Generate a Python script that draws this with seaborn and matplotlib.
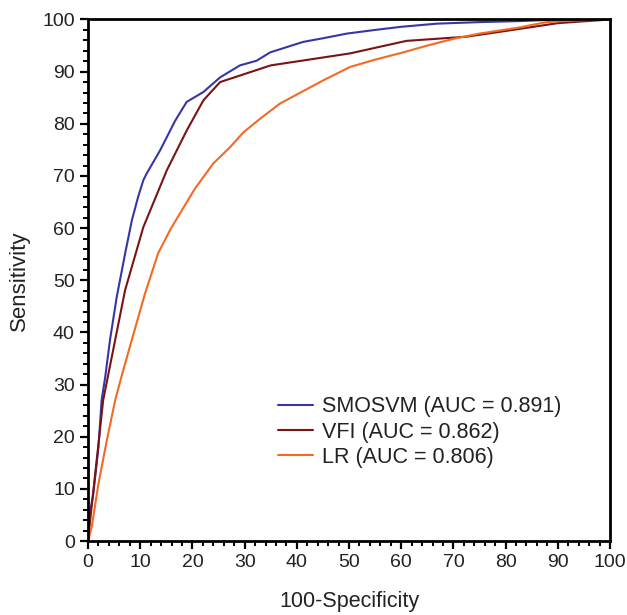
import numpy as np
import pandas as pd
import matplotlib
matplotlib.use("Agg")
import matplotlib.pyplot as plt
import seaborn as sns
from matplotlib.ticker import MultipleLocator

# ROC points (100-specificity, sensitivity)
svm_x = [0, 0.3, 1, 2, 2.6, 3.3, 4.2, 5.5, 7.1, 8.4, 9.6, 10.6, 11.2, 13.8, 16.7, 18.9,
         22.1, 25.3, 29.1, 32.3, 34.9, 41.2, 45, 49.6, 55, 60, 66.8, 75, 82.8, 90, 100]
svm_y = [0, 5, 9, 18, 27, 31.5, 38.5, 46.8, 55.1, 61.5, 66, 69.2, 70.4, 74.9, 80.6, 84.2,
         86.1, 88.9, 91.2, 92.1, 93.7, 95.7, 96.4, 97.3, 98, 98.6, 99.2, 99.5, 99.7, 100, 100]

vfi_x = [0, 0.3, 1.5, 2.9, 7.1, 10.6, 15.1, 18.9, 22.1, 25.3, 35, 50.2, 61, 72.5, 80, 90, 100]
vfi_y = [0, 3, 14, 27, 48.1, 60.2, 71.1, 78.7, 84.5, 88, 91.2, 93.5, 95.9, 96.7, 97.8, 99.3, 100]

lr_x = [0, 0.7, 2, 3.6, 5.2, 6.4, 8, 10.9, 13.4, 15.7, 17.6, 20.5, 24, 27.2, 29.8, 33,
        36.8, 40.9, 45, 50.2, 55, 60.4, 65, 70, 75, 82.8, 87.8, 93, 100]
lr_y = [0, 2.7, 11, 19.3, 27, 31.5, 37.2, 47.4, 55.1, 59.6, 62.8, 67.6, 72.4, 75.5, 78.4, 81,
        83.9, 86.1, 88.3, 90.9, 92.3, 93.7, 95, 96.3, 97.3, 98.5, 99.5, 99.8, 100]

labels = ["SMOSVM (AUC = 0.891)", "VFI (AUC = 0.862)", "LR (AUC = 0.806)"]
colors = ["#3636a6", "#7a1414", "#f26a24"]

df = pd.concat([
    pd.DataFrame({"fpr": svm_x, "tpr": svm_y, "model": labels[0]}),
    pd.DataFrame({"fpr": vfi_x, "tpr": vfi_y, "model": labels[1]}),
    pd.DataFrame({"fpr": lr_x, "tpr": lr_y, "model": labels[2]}),
], ignore_index=True)

sns.set_style("ticks")
plt.rcParams["font.family"] = ["Liberation Sans", "DejaVu Sans"]

fig = plt.figure(figsize=(6.27, 6.15), dpi=100)
ax = fig.add_axes([0.1404, 0.1203, 0.8325, 0.848])

sns.lineplot(data=df, x="fpr", y="tpr", hue="model", hue_order=labels,
             palette=dict(zip(labels, colors)), sort=False, estimator=None,
             linewidth=1.5, ax=ax)

ax.set_xlim(0, 100)
ax.set_ylim(0, 100)
ax.xaxis.set_major_locator(MultipleLocator(10))
ax.yaxis.set_major_locator(MultipleLocator(10))
ax.xaxis.set_minor_locator(MultipleLocator(2))
ax.yaxis.set_minor_locator(MultipleLocator(2))
ax.tick_params(which="major", direction="out", length=6, width=1.6, labelsize=14,
               color="black", labelcolor="#222222")
ax.tick_params(which="minor", direction="out", length=3.5, width=1.4, color="black")
for s in ax.spines.values():
    s.set_linewidth(2)
    s.set_color("black")

ax.set_xlabel("100-Specificity", fontsize=15.5, labelpad=14, color="#222222")
ax.set_ylabel("Sensitivity", fontsize=16, labelpad=9, color="#222222")

ax.legend(loc="center left", bbox_to_anchor=(0.364, 0.209), frameon=False,
          fontsize=15.5, handlelength=1.63, handletextpad=0.42, labelspacing=0.2,
          borderpad=0, borderaxespad=0, labelcolor="#222222")

fig.savefig("out.png", dpi=100)
